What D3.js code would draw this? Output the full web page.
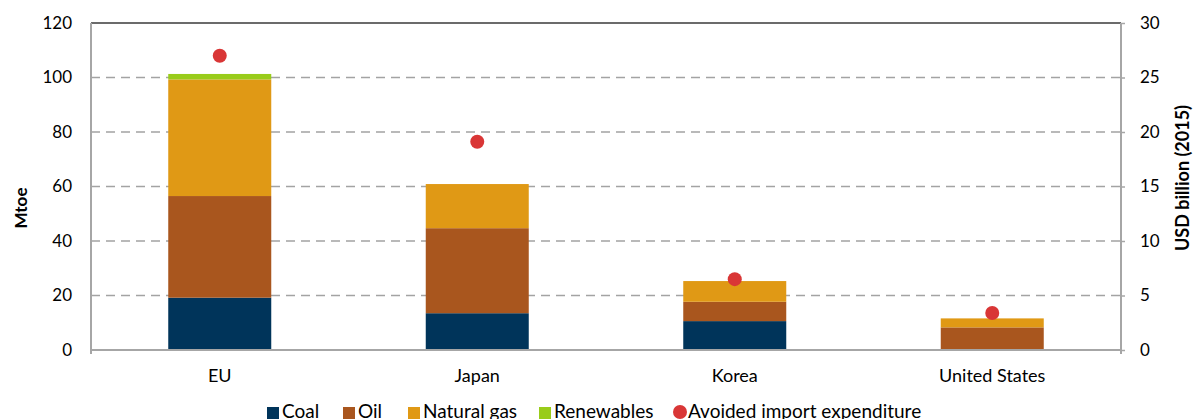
<!DOCTYPE html>
<html>
<head>
<meta charset="utf-8">
<script src="https://cdn.jsdelivr.net/npm/d3@7"></script>
<style>
body { margin: 0; background: #fff; }
text { font-family: Lato, "DejaVu Sans", sans-serif; fill: #000; }
</style>
</head>
<body>
<svg id="chart" width="1193" height="419"></svg>
<script>
var regions = ['EU', 'Japan', 'Korea', 'United States'];
var coal = [19.2, 13.5, 10.6, 0];
var oil = [37.3, 31.2, 7.1, 8.3];
var gas = [42.8, 16.2, 7.6, 3.3];
var renewables = [2.0, 0, 0, 0];
var avoided = [27.0, 19.1, 6.5, 3.4];
var leftTicks = [0, 20, 40, 60, 80, 100, 120];
var rightTicks = [0, 5, 10, 15, 20, 25, 30];

var series = [
	{'name':'Coal','values':coal,'color':'#00345a'},
	{'name':'Oil','values':oil,'color':'#a9561e'},
	{'name':'Natural gas','values':gas,'color':'#e09915'},
	{'name':'Renewables','values':renewables,'color':'#99cc1a'}
];
var dotColor = '#d93636';

var svg = d3.select('#chart');
var mLeft = 91, mRight = 1121, mTop = 23, mBottom = 350;

var x = d3.scaleBand().domain(regions).range([mLeft, mRight]);
var y = d3.scaleLinear().domain([0, 120]).range([mBottom, mTop]);
var y2 = d3.scaleLinear().domain([0, 30]).range([mBottom, mTop]);

// gridlines
svg.append('g')
	.selectAll('line')
	.data(leftTicks.filter(function(d){ return d > 0 && d < 120; }))
	.enter()
	.append('line')
	.attr('x1', mLeft).attr('x2', mRight)
	.attr('y1', function(d){ return y(d); })
	.attr('y2', function(d){ return y(d); })
	.attr('stroke', '#a3a3a3')
	.attr('stroke-width', 1.5)
	.attr('stroke-dasharray', '9,6');

svg.append('line')
	.attr('x1', mLeft).attr('x2', mRight)
	.attr('y1', y(120)).attr('y2', y(120))
	.attr('stroke', '#3a3a3a')
	.attr('stroke-width', 1.5);

// stacked bars
var rows = regions.map(function(r, i){
	var o = {'region': r};
	series.forEach(function(s){ o[s.name] = s.values[i]; });
	return o;
});
var stack = d3.stack().keys(series.map(function(s){ return s.name; }));
var layers = stack(rows);
var barW = x.bandwidth() * 0.4;

svg.append('g')
	.selectAll('g')
	.data(layers)
	.enter()
	.append('g')
	.attr('fill', function(d, i){ return series[i].color; })
	.selectAll('rect')
	.data(function(d){ return d; })
	.enter()
	.append('rect')
	.attr('x', function(d){ return x(d.data.region) + (x.bandwidth() - barW) / 2; })
	.attr('width', barW)
	.attr('y', function(d){ return y(d[1]); })
	.attr('height', function(d){ return y(d[0]) - y(d[1]); });

// axes lines
svg.append('line')
	.attr('x1', mLeft).attr('x2', mLeft)
	.attr('y1', mTop).attr('y2', mBottom + 4)
	.attr('stroke', '#a6a6a6').attr('stroke-width', 2);
svg.append('line')
	.attr('x1', mRight).attr('x2', mRight)
	.attr('y1', mTop).attr('y2', mBottom + 4)
	.attr('stroke', '#a6a6a6').attr('stroke-width', 2);
svg.append('line')
	.attr('x1', mLeft).attr('x2', mRight)
	.attr('y1', mBottom).attr('y2', mBottom)
	.attr('stroke', '#a6a6a6').attr('stroke-width', 2);

var leftAxis = svg.append('g')
	.attr('transform', 'translate(' + mLeft + ',0)')
	.call(d3.axisLeft(y).tickValues(leftTicks).tickSize(0).tickPadding(19));
leftAxis.select('.domain').remove();
leftAxis.selectAll('text').style('font-size', '17px').style('font-family', 'Lato, sans-serif');

var rightAxis = svg.append('g')
	.attr('transform', 'translate(' + mRight + ',0)')
	.call(d3.axisRight(y2).tickValues(rightTicks).tickSize(4).tickPadding(15));
rightAxis.select('.domain').remove();
rightAxis.selectAll('line').attr('stroke', '#a6a6a6').attr('stroke-width', 1.5);
rightAxis.selectAll('text').style('font-size', '17px').style('font-family', 'Lato, sans-serif');

var bottomAxis = svg.append('g')
	.attr('transform', 'translate(0,' + mBottom + ')')
	.call(d3.axisBottom(x).tickSize(0).tickPadding(19));
bottomAxis.select('.domain').remove();
bottomAxis.selectAll('text').style('font-size', '18px').style('font-family', 'Lato, sans-serif');

// dots
svg.append('g')
	.selectAll('circle')
	.data(avoided)
	.enter()
	.append('circle')
	.attr('cx', function(d, i){ return x(regions[i]) + x.bandwidth() / 2; })
	.attr('cy', function(d){ return y2(d); })
	.attr('r', 7)
	.attr('fill', dotColor);

// axis titles
svg.append('text')
	.attr('transform', 'translate(27,208) rotate(-90)')
	.attr('text-anchor', 'middle')
	.attr('font-size', '17px')
	.attr('font-weight', 'bold')
	.text('Mtoe');
svg.append('text')
	.attr('transform', 'translate(1189,178) rotate(-90)')
	.attr('text-anchor', 'middle')
	.attr('font-size', '18px')
	.attr('font-weight', 'bold')
	.text('USD billion (2015)');

// legend
var legendItems = [
	{'name':'Coal','color':series[0].color,'x':267,'shape':'rect'},
	{'name':'Oil','color':series[1].color,'x':343,'shape':'rect'},
	{'name':'Natural gas','color':series[2].color,'x':408,'shape':'rect'},
	{'name':'Renewables','color':series[3].color,'x':539,'shape':'rect'},
	{'name':'Avoided import expenditure','color':dotColor,'x':673,'shape':'circle'}
];
var legend = svg.append('g').attr('class', 'legend');
legendItems.forEach(function(d){
	if (d.shape == 'rect') {
		legend.append('rect')
			.attr('x', d.x).attr('y', 407)
			.attr('width', 12).attr('height', 12)
			.attr('fill', d.color);
	} else {
		legend.append('circle')
			.attr('cx', d.x + 7).attr('cy', 412)
			.attr('r', 7)
			.attr('fill', d.color);
	}
	legend.append('text')
		.attr('x', d.x + 15).attr('y', 418)
		.attr('font-size', '19px')
		.text(d.name);
});
</script>
</body>
</html>
